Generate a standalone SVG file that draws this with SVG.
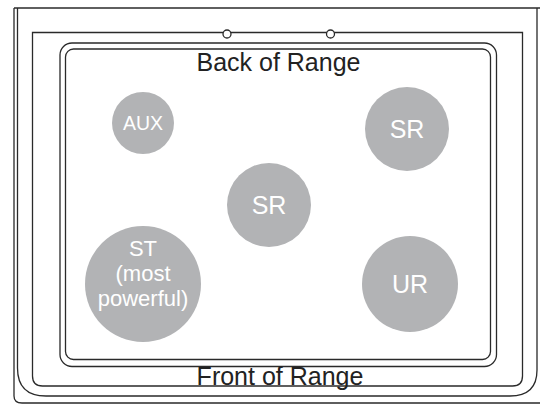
<svg xmlns="http://www.w3.org/2000/svg" width="540" height="405" viewBox="0 0 540 405">
<style>
.ln{fill:none;stroke:#2a2a2a;stroke-width:1.3}
.burner{fill:#b2b3b5}
.lbl{font-family:"Liberation Sans",Arial,sans-serif;fill:#fff;text-anchor:middle}
.edge{font-family:"Liberation Sans",Arial,sans-serif;fill:#222;text-anchor:middle;font-size:25px}
</style>
<rect width="540" height="405" fill="#fff"/>
<g id="frame">
<path class="ln" d="M14,8 H540"/>
<path class="ln" d="M14,8 V396 Q14,403 22,403 H540"/>
<path class="ln" d="M17.5,8 V368 Q17.5,396 46,396 H510 Q537,396 537,370 V8"/>
<path class="ln" d="M32.5,32.5 H522.5 V376 Q522.5,386 512.5,386 H42.5 Q32.5,386 32.5,376 Z"/>
<circle class="ln" cx="227" cy="34" r="4" style="fill:#fff"/>
<circle class="ln" cx="330.5" cy="34" r="4" style="fill:#fff"/>
<rect class="ln" x="60" y="43" width="436.5" height="323.5" rx="12"/>
<rect class="ln" x="65.5" y="49" width="425" height="310.5" rx="8"/>
</g>
<g id="back"><text class="edge" x="278.5" y="71">Back of Range</text></g>
<g id="front"><text class="edge" x="280" y="385">Front of Range</text></g>
<g id="aux"><circle class="burner" cx="143" cy="123" r="31"/><text class="lbl" x="143" y="130" font-size="19.5">AUX</text></g>
<g id="sr-back"><circle class="burner" cx="407" cy="129" r="42"/><text class="lbl" x="407" y="138" font-size="25">SR</text></g>
<g id="sr-center"><circle class="burner" cx="269" cy="205" r="42"/><text class="lbl" x="269" y="214" font-size="25">SR</text></g>
<g id="st"><circle class="burner" cx="143" cy="284" r="58"/><text class="lbl" font-size="22"><tspan x="143" y="256">ST</tspan><tspan x="143" y="281">(most</tspan><tspan x="143" y="306">powerful)</tspan></text></g>
<g id="ur"><circle class="burner" cx="410" cy="284" r="48"/><text class="lbl" x="410" y="293" font-size="25">UR</text></g>
<g id="connectors"/>
</svg>
